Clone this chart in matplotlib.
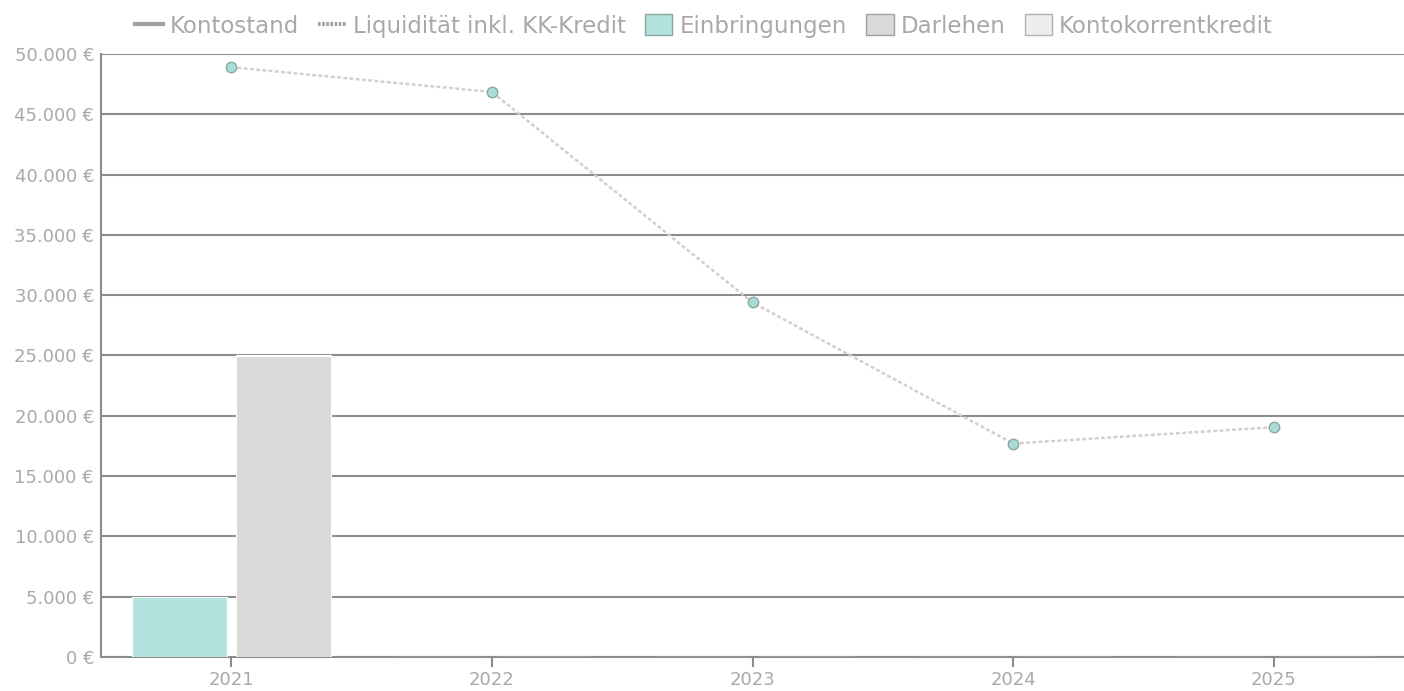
import matplotlib
matplotlib.use("Agg")
import matplotlib.pyplot as plt
from matplotlib.lines import Line2D
from matplotlib.patches import Patch
import numpy as np

years = ["2021", "2022", "2023", "2024", "2025"]
einbringungen = [5000, 0, 0, 0, 0]
darlehen = [25000, 0, 0, 0, 0]
kontokorrent = [0, 0, 0, 0, 0]
liquiditaet = [48900, 46850, 29400, 17700, 19050]
y_ticks = [0, 5000, 10000, 15000, 20000, 25000, 30000, 35000, 40000, 45000, 50000]

plt.rcParams['font.family'] = ['DejaVu Sans']
fig = plt.figure(figsize=(14.04, 6.91), dpi=100)
ax = fig.add_axes([101/1404, 1 - 657/691, (1404-101)/1404, (657-54)/691])

x = np.arange(len(years))
w = 0.364
teal = "#b2e3de"
grey_bar = "#d9d9d9"
light_bar = "#eeeeee"
ax.bar(x - 0.2, einbringungen, width=w, color=teal, edgecolor="white", linewidth=0.8, zorder=3)
ax.bar(x + 0.2, darlehen, width=w, color=grey_bar, edgecolor="white", linewidth=0.8, zorder=3)
ax.bar(x + 0.2, kontokorrent, bottom=darlehen, width=w, color=light_bar, edgecolor="white", linewidth=0.8, zorder=3)

ax.plot(x, liquiditaet, linestyle=(0, (1.5, 1.0)), color="#d0d0d0", linewidth=1.8, zorder=4)
ax.plot(x, liquiditaet, linestyle="none", marker="o", markersize=7.5, markerfacecolor="#a9dcd6",
        markeredgecolor="#8aa6a3", markeredgewidth=1, zorder=5)

ax.set_xlim(-0.5, 4.5)
ax.set_ylim(0, 50000)
ax.set_yticks(y_ticks)
ax.set_yticklabels([f"{v:,.0f} €".replace(",", ".") for v in y_ticks])
ax.set_xticks(x)
ax.set_xticklabels(years)
ax.yaxis.grid(True, color="#8c8c8c", linewidth=1.5, zorder=1)
ax.set_axisbelow(True)
for s in ["top", "right"]:
    ax.spines[s].set_visible(False)
for s in ["left", "bottom"]:
    ax.spines[s].set_color("#8c8c8c")
    ax.spines[s].set_linewidth(1.5)
ax.tick_params(axis="y", length=0, labelsize=13, labelcolor="#a9a9a9", pad=5)
ax.tick_params(axis="x", length=7, width=1.5, color="#8c8c8c", labelsize=13, labelcolor="#a9a9a9", pad=3)

handles = [
    Line2D([0], [0], color="#a0a0a0", linewidth=3),
    Line2D([0], [0], color="#a0a0a0", linewidth=3, linestyle=(0, (0.6, 0.4))),
    Patch(facecolor=teal, edgecolor="#8aa6a3"),
    Patch(facecolor=grey_bar, edgecolor="#a0a0a0"),
    Patch(facecolor=light_bar, edgecolor="#b0b0b0"),
]
labels = ["Kontostand", "Liquidität inkl. KK-Kredit", "Einbringungen", "Darlehen", "Kontokorrentkredit"]
leg = fig.legend(handles, labels, loc="center", bbox_to_anchor=(704/1404, 1 - 26/691), ncol=5,
                 frameon=False, fontsize=16.5, handlelength=1.2, handletextpad=0.3, columnspacing=0.85,
                 handleheight=1.0)
for t in leg.get_texts():
    t.set_color("#a9a9a9")

fig.savefig("out.png", dpi=100)
